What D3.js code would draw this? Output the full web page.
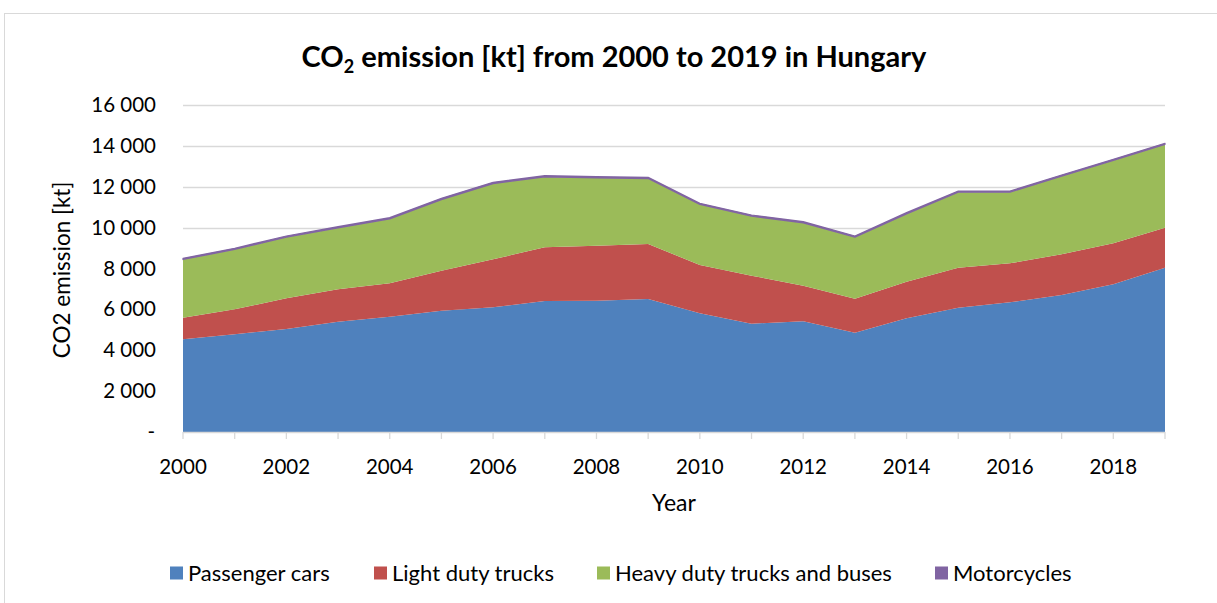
<!DOCTYPE html>
<html><head><meta charset="utf-8">
<script src="https://cdn.jsdelivr.net/npm/d3@7/dist/d3.min.js"></script>
<style>body{margin:0;background:#fff}svg{display:block}text{font-family:Lato,"Open Sans",sans-serif;fill:#000}</style>
</head><body>
<svg id="c" width="1217" height="603"></svg>
<script>
const years = d3.range(2000, 2020);
const passengerCars = [4535,4780,5040,5398,5643,5937,6100,6410,6426,6508,5807,5301,5415,4860,5562,6084,6345,6703,7226,8041];
const lightDutyTrucks = [1059,1223,1501,1583,1631,1956,2350,2627,2692,2691,2364,2348,1745,1664,1794,1957,1908,1991,2006,1956];
const heavyDutyTrucksBuses = [2845,2925,2989,3005,3153,3479,3706,3445,3315,3202,2959,2909,3072,3006,3316,3691,3479,3821,4050,4069];
const motorcycles = [60,60,60,60,60,60,60,60,60,60,60,60,60,60,60,60,60,60,60,60];
const seriesNames = ["Passenger cars","Light duty trucks","Heavy duty trucks and buses","Motorcycles"];
const colors = ["#4F81BD","#C0504D","#9BBB59","#8064A2"];
const yTicks = [0,2000,4000,6000,8000,10000,12000,14000,16000];
const xLabelYears = [2000,2002,2004,2006,2008,2010,2012,2014,2016,2018];

const svg = d3.select("#c");
svg.append("rect").attr("x",4.5).attr("y",13.5).attr("width",1240).attr("height",640)
  .attr("fill","#fff").attr("stroke","#d9d9d9");

const x = d3.scaleLinear().domain([2000,2019]).range([183,1165]);
const y = d3.scaleLinear().domain([0,16000]).range([432,105]);

const table = years.map((yr,i)=>({year:yr, s0:passengerCars[i], s1:lightDutyTrucks[i], s2:heavyDutyTrucksBuses[i], s3:motorcycles[i]}));
const stack = d3.stack().keys(["s0","s1","s2","s3"]);
const layers = stack(table);

// gridlines
svg.append("g").selectAll("line").data(yTicks.slice(1)).join("line")
  .attr("x1",183).attr("x2",1165).attr("y1",d=>Math.round(y(d))+0.5).attr("y2",d=>Math.round(y(d))+0.5)
  .attr("stroke","#d9d9d9").attr("stroke-width",1.3);

const area = d3.area().x(d=>x(d.data.year)).y0(d=>y(d[0])).y1(d=>y(d[1]));
svg.append("g").selectAll("path").data(layers).join("path")
  .attr("d",area).attr("fill",(d,i)=>colors[i])
  .attr("stroke",(d,i)=>i===3?colors[3]:"none").attr("stroke-width",1.2).attr("stroke-linejoin","round");

// x axis
const xa = svg.append("g").attr("transform","translate(0,432)");
xa.append("line").attr("x1",183).attr("x2",1165).attr("y1",0.5).attr("y2",0.5).attr("stroke","#d9d9d9").attr("stroke-width",1.3);
xa.selectAll("line.t").data(years).join("line").attr("class","t")
  .attr("x1",d=>x(d)).attr("x2",d=>x(d)).attr("y1",0).attr("y2",7).attr("stroke","#d9d9d9").attr("stroke-width",1.3);
xa.selectAll("text").data(xLabelYears).join("text")
  .attr("x",d=>x(d)).attr("y",42).attr("text-anchor","middle").attr("font-size",20.5).text(d=>d);

// y labels
const fmt = d=> d===0 ? "-" : d3.format(",")(d).replace(/,/g," ");
svg.append("g").selectAll("text").data(yTicks).join("text")
  .attr("x",d=>d===0?155:156).attr("y",d=>y(d)+7).attr("text-anchor","end").attr("font-size",20.5).text(fmt);

svg.append("text").attr("transform","translate(70,270) rotate(-90)").attr("text-anchor","middle")
  .attr("font-size",22.5).text("CO2 emission [kt]");
svg.append("text").attr("x",674).attr("y",511).attr("text-anchor","middle").attr("font-size",23).text("Year");

// title
const t = svg.append("text").attr("x",614).attr("y",67).attr("text-anchor","middle").attr("font-size",29).attr("font-weight","bold");
t.append("tspan").text("CO");
t.append("tspan").attr("font-size",18).attr("dy",6).text("2");
t.append("tspan").attr("dy",-6).text(" emission [kt] from 2000 to 2019 in Hungary");

// legend
const legX = [170,374,597,935];
const lg = svg.append("g").selectAll("g").data(seriesNames).join("g").attr("transform",(d,i)=>`translate(${legX[i]},573)`);
lg.append("rect").attr("x",0).attr("y",-6.5).attr("width",13).attr("height",13).attr("fill",(d,i)=>colors[i]);
lg.append("text").attr("x",18).attr("y",8).attr("font-size",22).text(d=>d);
</script>
</body></html>
